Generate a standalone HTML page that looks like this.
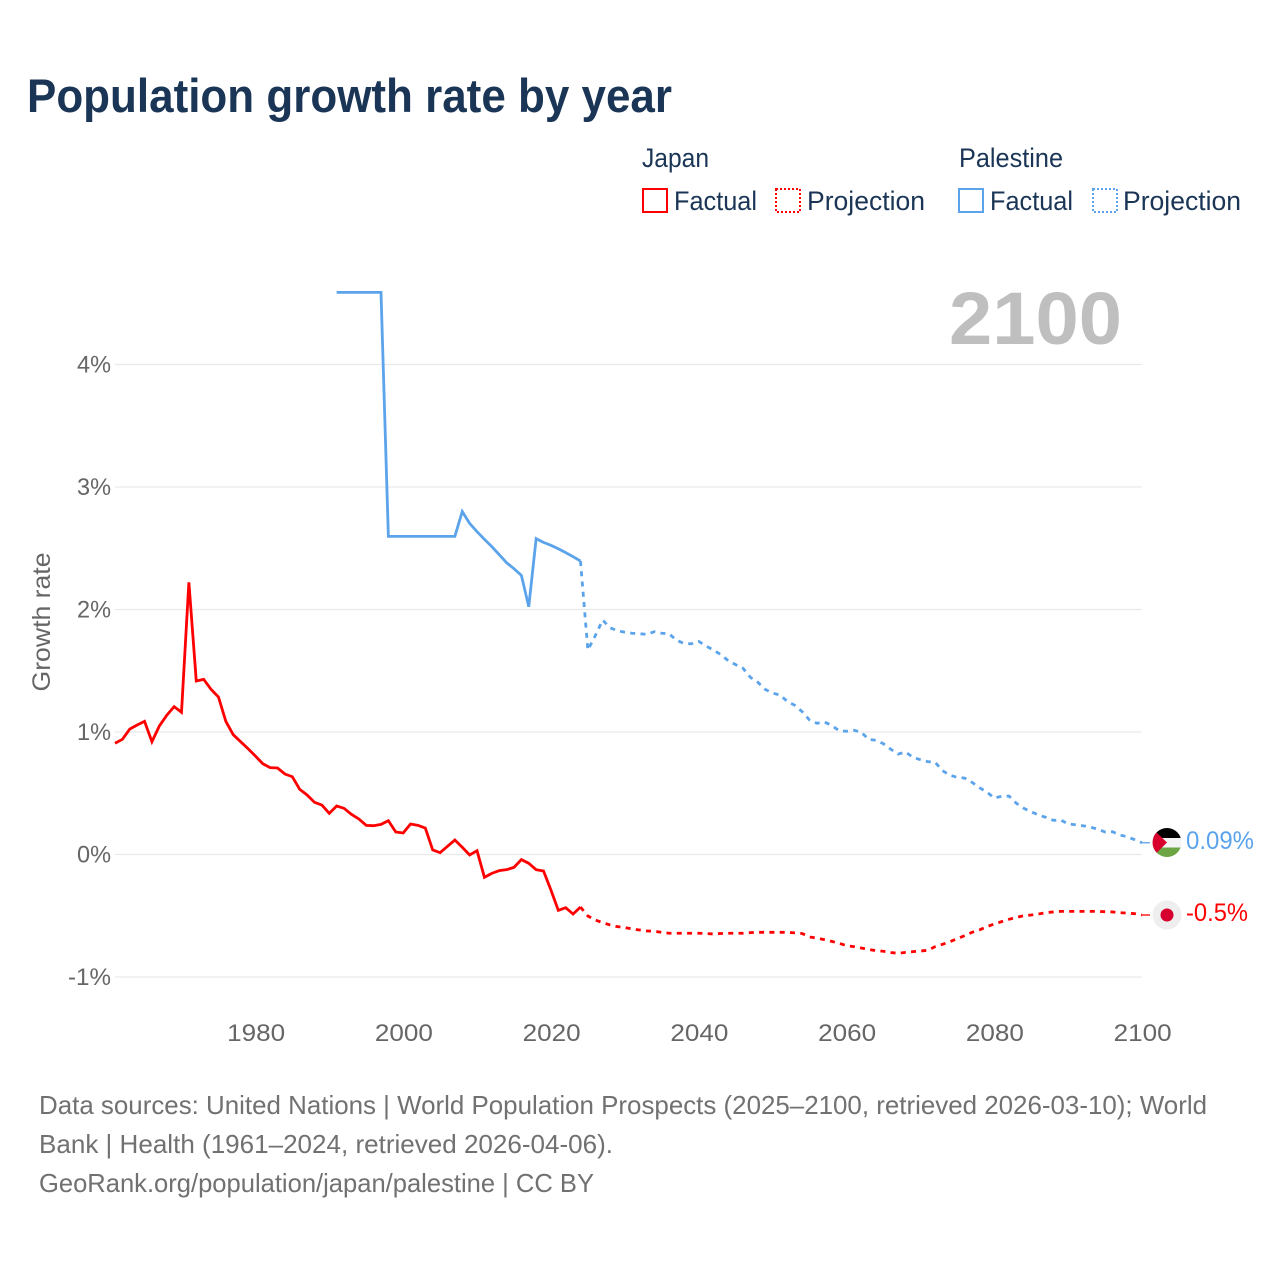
<!DOCTYPE html>
<html lang="en">
<head>
<meta charset="utf-8">
<title>Population growth rate by year</title>
<style>
  html, body { margin: 0; padding: 0; background: #fff; }
  svg { display: block; font-family: "Liberation Sans", sans-serif; }
  .tick { font-size: 24.5px; fill: #666; }
  .legend { font-size: 26.5px; fill: #1a3555; }
  .source { font-size: 26px; fill: #717171; }
</style>
</head>
<body>
<svg id="chart" xmlns="http://www.w3.org/2000/svg" width="1280" height="1280" viewBox="0 0 1280 1280">
  <rect x="0" y="0" width="1280" height="1280" fill="#fff"/>
  <text x="27" y="112" font-size="47" font-weight="700" fill="#1a3555" textLength="645" lengthAdjust="spacingAndGlyphs">Population growth rate by year</text>

  <g>
    <text class="legend" x="642" y="167" textLength="67" lengthAdjust="spacingAndGlyphs">Japan</text>
    <rect x="643" y="189" width="24" height="23" fill="none" stroke="#ff0000" stroke-width="2"/>
    <text class="legend" x="674" y="210" textLength="83" lengthAdjust="spacingAndGlyphs">Factual</text>
    <rect x="776" y="189" width="24" height="23" fill="none" stroke="#ff0000" stroke-width="2" stroke-dasharray="2 2"/>
    <text class="legend" x="807" y="210" textLength="118" lengthAdjust="spacingAndGlyphs">Projection</text>
    <text class="legend" x="959" y="167" textLength="104" lengthAdjust="spacingAndGlyphs">Palestine</text>
    <rect x="959" y="189" width="24" height="23" fill="none" stroke="#5ba3ea" stroke-width="2"/>
    <text class="legend" x="990" y="210" textLength="83" lengthAdjust="spacingAndGlyphs">Factual</text>
    <rect x="1093" y="189" width="24" height="23" fill="none" stroke="#5ba3ea" stroke-width="2" stroke-dasharray="2 2"/>
    <text class="legend" x="1123" y="210" textLength="118" lengthAdjust="spacingAndGlyphs">Projection</text>
  </g>

  <g id="grid"></g>
  <g id="yticks"></g>
  <g id="xticks"></g>
  <text transform="translate(50,622) rotate(-90)" text-anchor="middle" font-size="25" fill="#666" textLength="139" lengthAdjust="spacingAndGlyphs">Growth rate</text>
  <text x="949" y="344" font-size="74" font-weight="700" fill="#bfbfbf" textLength="173" lengthAdjust="spacingAndGlyphs">2100</text>

  <g id="series"></g>

  <defs>
    <clipPath id="flag-clip"><circle cx="1167" cy="842.5" r="14.5"/></clipPath>
  </defs>
  <g clip-path="url(#flag-clip)">
    <rect x="1152" y="828" width="30" height="10" fill="#000"/>
    <rect x="1152" y="838" width="30" height="10" fill="#f4f4f4"/>
    <rect x="1152" y="847.5" width="30" height="10" fill="#6ea544"/>
    <polygon points="1152,828 1167,842.5 1152,857.5" fill="#d8002c"/>
  </g>
  <g>
    <circle cx="1167" cy="915" r="14.5" fill="#eeeeee"/>
    <circle cx="1167" cy="915" r="6.5" fill="#d6002f"/>
  </g>
  <text x="1186" y="849" font-size="25" fill="#5ba3ea" textLength="68" lengthAdjust="spacingAndGlyphs">0.09%</text>
  <text x="1186" y="921" font-size="25" fill="#ff0000" textLength="62" lengthAdjust="spacingAndGlyphs">-0.5%</text>

  <g>
    <text class="source" x="39" y="1114" textLength="1168" lengthAdjust="spacingAndGlyphs">Data sources: United Nations | World Population Prospects (2025–2100, retrieved 2026-03-10); World</text>
    <text class="source" x="39" y="1153" textLength="574" lengthAdjust="spacingAndGlyphs">Bank | Health (1961–2024, retrieved 2026-04-06).</text>
    <a><text class="source" x="39" y="1192" textLength="555" lengthAdjust="spacingAndGlyphs">GeoRank.org/population/japan/palestine | CC BY</text></a>
  </g>
</svg>

<script>
const yTickValues = [4, 3, 2, 1, 0, -1];
const yTickLabels = ["4%", "3%", "2%", "1%", "0%", "-1%"];
const xTickYears = [1980, 2000, 2020, 2040, 2060, 2080, 2100];

const japanFactualStart = 1961;
const japanFactual = [
  0.908, 0.94, 1.024, 1.057, 1.087, 0.921, 1.049, 1.136, 1.207, 1.161,
  2.222, 1.416, 1.43, 1.348, 1.286, 1.087, 0.978, 0.921, 0.864, 0.804,
  0.741, 0.709, 0.706, 0.657, 0.635, 0.532, 0.486, 0.426, 0.404, 0.336,
  0.396, 0.377, 0.328, 0.29, 0.238, 0.235, 0.246, 0.276, 0.184, 0.175,
  0.249, 0.238, 0.216, 0.037, 0.015, 0.067, 0.118, 0.059, -0.004, 0.031,
  -0.186, -0.154, -0.132, -0.124, -0.105, -0.042, -0.072, -0.124, -0.135, -0.29,
  -0.456, -0.434, -0.486, -0.429
];
const japanProjectionStart = 2024;
const japanProjection = [
  -0.429, -0.502, -0.535, -0.556, -0.575, -0.589, -0.597, -0.608, -0.616, -0.624,
  -0.627, -0.635, -0.643, -0.643, -0.643, -0.643, -0.643, -0.645, -0.649, -0.645,
  -0.643, -0.643, -0.643, -0.638, -0.635, -0.635, -0.635, -0.635, -0.635, -0.64,
  -0.645, -0.673, -0.682, -0.695, -0.709, -0.725, -0.744, -0.752, -0.763, -0.775,
  -0.785, -0.79, -0.8, -0.807, -0.799, -0.793, -0.788, -0.782, -0.752, -0.733,
  -0.712, -0.687, -0.663, -0.635, -0.616, -0.589, -0.567, -0.548, -0.529, -0.513,
  -0.5, -0.494, -0.486, -0.475, -0.469, -0.464, -0.464, -0.464, -0.464, -0.464,
  -0.464, -0.467, -0.469, -0.475, -0.478, -0.483, -0.494
];
const palestineFactualStart = 1991;
const palestineFactual = [
  4.589, 4.589, 4.589, 4.589, 4.589, 4.589, 4.589,
  2.597, 2.597, 2.597, 2.597, 2.597, 2.597, 2.597, 2.597, 2.597, 2.597,
  2.8, 2.703, 2.635, 2.573, 2.513, 2.448, 2.382, 2.333, 2.279, 2.023,
  2.578, 2.548, 2.524, 2.496, 2.464, 2.431, 2.396
];
const palestineProjectionStart = 2024;
const palestineProjection = [
  2.396, 1.669, 1.786, 1.914, 1.851, 1.827, 1.814, 1.806, 1.802, 1.797,
  1.819, 1.806, 1.802, 1.748, 1.724, 1.72, 1.74, 1.702, 1.669, 1.631,
  1.582, 1.55, 1.52, 1.446, 1.406, 1.348, 1.318, 1.302, 1.25, 1.218,
  1.166, 1.098, 1.071, 1.082, 1.054, 1.011, 1.006, 1.014, 0.998, 0.94,
  0.932, 0.904, 0.859, 0.82, 0.837, 0.793, 0.774, 0.758, 0.753, 0.684,
  0.647, 0.63, 0.624, 0.589, 0.545, 0.51, 0.461, 0.475, 0.477, 0.418,
  0.377, 0.349, 0.322, 0.303, 0.279, 0.282, 0.249, 0.243, 0.235, 0.224,
  0.206, 0.184, 0.186, 0.159, 0.145, 0.121, 0.096
];

const NS = "http://www.w3.org/2000/svg";
function xScale(year) { return 115 + (year - 1961) * (1142 - 115) / 139; }
function yScale(value) { return 854.5 - value * 122.5; }

const gridGroup = document.getElementById("grid");
const yTickGroup = document.getElementById("yticks");
const xTickGroup = document.getElementById("xticks");
const seriesGroup = document.getElementById("series");

yTickValues.forEach(function (v, i) {
  const line = document.createElementNS(NS, "line");
  
  
  line.setAttribute("x1", 115);
  line.setAttribute("x2", 1142);
  line.setAttribute("y1", yScale(v));
  line.setAttribute("y2", yScale(v));
  line.setAttribute("stroke", "#e9e9e9");
  line.setAttribute("stroke-width", "1.3");
  gridGroup.appendChild(line);

  const label = document.createElementNS(NS, "text");
  
  
  label.setAttribute("class", "tick");
  label.setAttribute("x", 111);
  label.setAttribute("y", yScale(v) + 8);
  label.setAttribute("text-anchor", "end");
  label.setAttribute("textLength", yTickLabels[i].length === 3 ? 43 : 34);
  label.setAttribute("lengthAdjust", "spacingAndGlyphs");
  label.textContent = yTickLabels[i];
  yTickGroup.appendChild(label);
});

xTickYears.forEach(function (year) {
  const label = document.createElementNS(NS, "text");
  
  
  label.setAttribute("class", "tick");
  label.setAttribute("x", xScale(year) + 0.7);
  label.setAttribute("y", 1041);
  label.setAttribute("text-anchor", "middle");
  label.setAttribute("textLength", 58);
  label.setAttribute("lengthAdjust", "spacingAndGlyphs");
  label.textContent = year;
  xTickGroup.appendChild(label);
});

function pointsFor(start, values) {
  return values.map(function (v, i) {
    return xScale(start + i).toFixed(2) + "," + yScale(v).toFixed(2);
  }).join(" ");
}

function drawSeries(start, values, color, width, dashed, name) {
  const line = document.createElementNS(NS, "polyline");
  
  
  line.setAttribute("points", pointsFor(start, values));
  line.setAttribute("fill", "none");
  line.setAttribute("stroke", color);
  line.setAttribute("stroke-width", width);
  line.setAttribute("stroke-linejoin", "miter");
  if (dashed) line.setAttribute("stroke-dasharray", "5 5.3");
  seriesGroup.appendChild(line);
}

function drawConnector(value, color) {
  const line = document.createElementNS(NS, "line");
  
  
  line.setAttribute("x1", xScale(2100));
  line.setAttribute("x2", 1150);
  line.setAttribute("y1", yScale(value));
  line.setAttribute("y2", yScale(value));
  line.setAttribute("stroke", color);
  line.setAttribute("stroke-width", "1.3");
  seriesGroup.appendChild(line);
}

drawSeries(palestineFactualStart, palestineFactual, "#5ba3ea", 2.8, false, "palestine-factual-line");
drawSeries(palestineProjectionStart, palestineProjection, "#5ba3ea", 2.8, true, "palestine-projection-line");
drawSeries(japanFactualStart, japanFactual, "#ff0000", 2.8, false, "japan-factual-line");
drawSeries(japanProjectionStart, japanProjection, "#ff0000", 2.8, true, "japan-projection-line");
drawConnector(palestineProjection[palestineProjection.length - 1], "#5ba3ea");
drawConnector(japanProjection[japanProjection.length - 1], "#ff0000");
</script>
</body>
</html>
